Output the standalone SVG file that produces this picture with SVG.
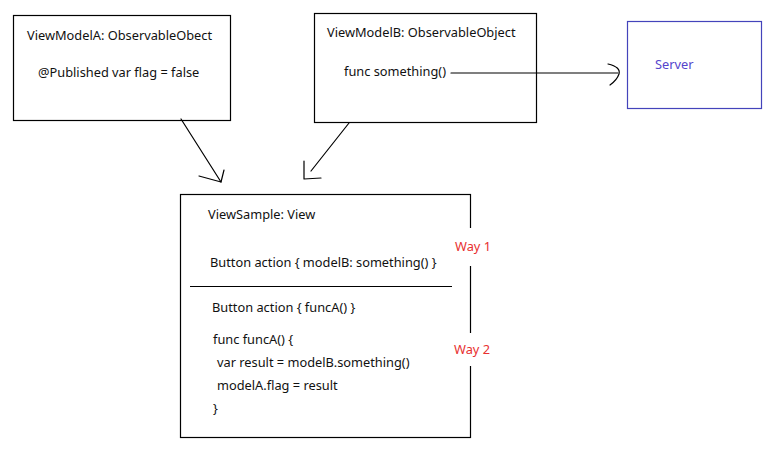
<svg xmlns="http://www.w3.org/2000/svg" width="776" height="454" viewBox="0 0 776 454">
<style>
text{font-family:"Noto Sans","Liberation Sans",sans-serif;font-size:12.8px;fill:#111}
.box{fill:#fff;stroke:#000;stroke-width:1.2}
.ln{fill:none;stroke:#000;stroke-width:1.2;stroke-linecap:round;stroke-linejoin:round}
.way{fill:#e83030}
</style>
<rect width="776" height="454" fill="#fff"/>
<g id="viewModelA">
<rect class="box" x="13.5" y="15.5" width="217" height="105"/>
<text x="27" y="40">ViewModelA: ObservableObect</text>
<text x="38" y="77">@Published var flag = false</text>
</g>
<g id="viewModelB">
<rect class="box" x="314.5" y="13.5" width="222" height="109"/>
<text x="327" y="37">ViewModelB: ObservableObject</text>
<text x="344" y="76">func something()</text>
</g>
<g id="server">
<rect x="627.5" y="21.5" width="134" height="87" fill="#fff" stroke="#4444bb" stroke-width="1.2"/>
<text x="655" y="69" style="fill:#5544cc">Server</text>
</g>
<g id="viewSample">
<rect class="box" x="180.5" y="194.5" width="290" height="243"/>
<line x1="190" y1="286.5" x2="452" y2="286.5" stroke="#000" stroke-width="1.2"/>
<text x="208" y="219">ViewSample: View</text>
<text x="210" y="267">Button action { modelB: something() }</text>
<text x="212" y="312">Button action { funcA() }</text>
<text x="213" y="344">func funcA() {</text>
<text x="217" y="367">var result = modelB.something()</text>
<text x="217" y="390">modelA.flag = result</text>
<text x="213" y="413">}</text>
<rect x="448" y="228" width="46" height="38" fill="#fff"/>
<text class="way" x="455" y="251">Way 1</text>
<rect x="448" y="333" width="46" height="33" fill="#fff"/>
<text class="way" x="454" y="354">Way 2</text>
</g>
<g id="connectors">
<path class="ln" d="M181,119 L221,182"/>
<path class="ln" d="M199,176 L221,182 L224,170"/>
<path class="ln" d="M349,123 L311,171"/>
<path class="ln" d="M304,161 L304,179 L321,178"/>
<path class="ln" d="M451,73 L618,73"/>
<path class="ln" d="M608,64 Q621,67 619,74 Q617,80 610,85"/>
</g>
</svg>
